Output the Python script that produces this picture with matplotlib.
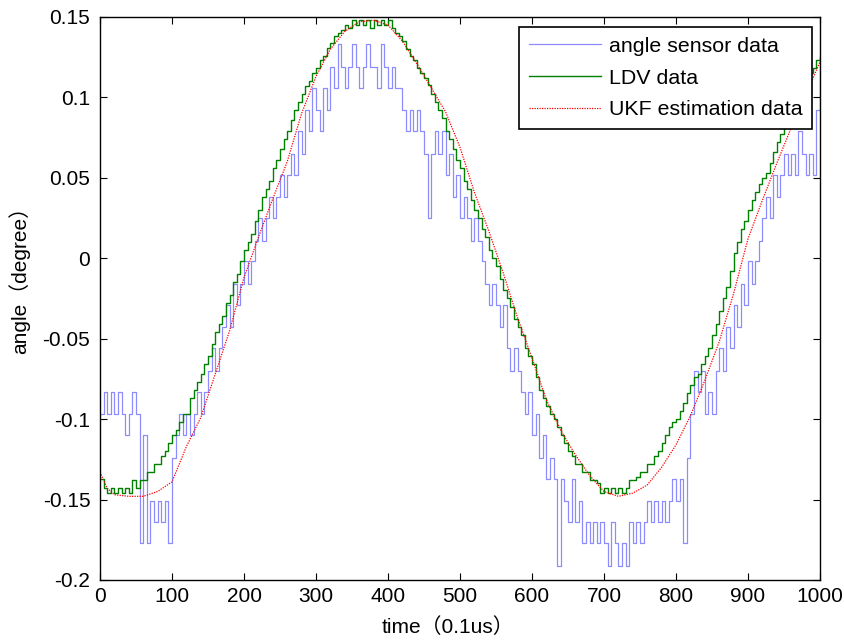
import numpy as np
import matplotlib
matplotlib.use('Agg')
import matplotlib.pyplot as plt

plt.rcParams['font.family'] = ['Liberation Sans', 'Noto Sans CJK SC', 'DejaVu Sans']
plt.rcParams['axes.unicode_minus'] = False

# time axis (0.1us) for the sampled values
t_step = list(range(0, 1001, 5))

# angle sensor data, read every 5 samples
sensor = [
    -0.097, -0.083, -0.097, -0.083, -0.097, -0.083, -0.097, -0.110, -0.097, -0.083,
    -0.097, -0.177, -0.110, -0.177, -0.151, -0.164, -0.151, -0.164, -0.151, -0.177,
    -0.124, -0.110, -0.097, -0.110, -0.097, -0.110, -0.097, -0.083, -0.097, -0.083,
    -0.070, -0.056, -0.070, -0.056, -0.043, -0.029, -0.043, -0.016, -0.029, -0.016,
    -0.002, -0.016, -0.002, 0.011, 0.025, 0.011, 0.025, 0.038, 0.025, 0.038,
    0.052, 0.038, 0.052, 0.065, 0.052, 0.079, 0.065, 0.092, 0.079, 0.106,
    0.092, 0.079, 0.106, 0.092, 0.119, 0.106, 0.133, 0.119, 0.106, 0.119,
    0.133, 0.119, 0.106, 0.119, 0.133, 0.119, 0.119, 0.106, 0.133, 0.119,
    0.106, 0.119, 0.106, 0.106, 0.092, 0.079, 0.092, 0.079, 0.092, 0.079,
    0.065, 0.025, 0.065, 0.079, 0.065, 0.079, 0.052, 0.065, 0.038, 0.052,
    0.025, 0.038, 0.025, 0.011, 0.025, 0.011, -0.002, -0.016, -0.029, -0.016,
    -0.029, -0.043, -0.029, -0.056, -0.070, -0.056, -0.070, -0.083, -0.097, -0.083,
    -0.110, -0.097, -0.124, -0.110, -0.137, -0.124, -0.137, -0.191, -0.137, -0.151,
    -0.164, -0.137, -0.164, -0.151, -0.177, -0.164, -0.177, -0.164, -0.177, -0.164,
    -0.177, -0.191, -0.164, -0.177, -0.191, -0.177, -0.191, -0.164, -0.177, -0.164,
    -0.177, -0.164, -0.151, -0.164, -0.151, -0.164, -0.151, -0.164, -0.151, -0.137,
    -0.151, -0.137, -0.177, -0.124, -0.097, -0.070, -0.083, -0.070, -0.097, -0.083,
    -0.097, -0.070, -0.056, -0.070, -0.043, -0.056, -0.029, -0.043, -0.016, -0.029,
    -0.002, -0.016, -0.002, 0.011, 0.025, 0.038, 0.025, 0.052, 0.038, 0.052,
    0.065, 0.052, 0.065, 0.052, 0.079, 0.065, 0.052, 0.065, 0.052, 0.092,
    0.119,
]

# LDV data, read every 5 samples
ldv = [
    -0.137, -0.143, -0.146, -0.143, -0.146, -0.143, -0.146, -0.143, -0.146, -0.138,
    -0.143, -0.138, -0.138, -0.133, -0.133, -0.128, -0.128, -0.123, -0.120, -0.115,
    -0.110, -0.107, -0.102, -0.097, -0.097, -0.087, -0.082, -0.077, -0.072, -0.066,
    -0.061, -0.053, -0.046, -0.041, -0.036, -0.028, -0.023, -0.015, -0.010, -0.002,
    0.005, 0.010, 0.015, 0.023, 0.030, 0.038, 0.043, 0.048, 0.056, 0.061,
    0.068, 0.074, 0.079, 0.086, 0.092, 0.097, 0.102, 0.107, 0.110, 0.115,
    0.118, 0.123, 0.126, 0.131, 0.134, 0.138, 0.140, 0.142, 0.145, 0.143,
    0.148, 0.145, 0.148, 0.145, 0.148, 0.143, 0.148, 0.145, 0.148, 0.145,
    0.148, 0.143, 0.140, 0.138, 0.135, 0.130, 0.126, 0.123, 0.118, 0.115,
    0.112, 0.108, 0.102, 0.097, 0.092, 0.087, 0.079, 0.074, 0.068, 0.061,
    0.056, 0.048, 0.043, 0.036, 0.030, 0.025, 0.018, 0.013, 0.005, 0.000,
    -0.005, -0.013, -0.020, -0.025, -0.030, -0.038, -0.043, -0.048, -0.056, -0.061,
    -0.066, -0.074, -0.082, -0.087, -0.092, -0.097, -0.100, -0.105, -0.110, -0.115,
    -0.120, -0.123, -0.128, -0.128, -0.133, -0.133, -0.138, -0.138, -0.140, -0.146,
    -0.143, -0.146, -0.143, -0.146, -0.143, -0.146, -0.143, -0.138, -0.138, -0.136,
    -0.133, -0.133, -0.128, -0.128, -0.123, -0.120, -0.115, -0.110, -0.105, -0.102,
    -0.100, -0.095, -0.090, -0.084, -0.079, -0.074, -0.072, -0.066, -0.061, -0.056,
    -0.048, -0.041, -0.033, -0.025, -0.018, -0.008, 0.003, 0.010, 0.018, 0.023,
    0.030, 0.036, 0.041, 0.046, 0.050, 0.053, 0.059, 0.066, 0.072, 0.077,
    0.082, 0.087, 0.092, 0.097, 0.102, 0.107, 0.112, 0.115, 0.118, 0.123,
    0.125,
]

# UKF estimation data
t_ukf = [0, 10, 20, 40, 60, 80, 100, 120, 140, 160, 180, 200, 220, 240, 260, 280,
         300, 320, 340, 360, 380, 400, 420, 440, 460, 480, 500, 520, 540, 560, 580,
         600, 620, 640, 660, 680, 700, 720, 740, 760, 780, 800, 820, 840, 860, 880,
         900, 920, 940, 960, 980, 1000]
ukf = [-0.133, -0.143, -0.147, -0.148, -0.148, -0.145, -0.139, -0.117, -0.099, -0.072,
       -0.045, -0.012, 0.013, 0.037, 0.060, 0.090, 0.113, 0.130, 0.141, 0.147,
       0.148, 0.145, 0.135, 0.121, 0.106, 0.091, 0.069, 0.041, 0.017, -0.009,
       -0.037, -0.062, -0.088, -0.107, -0.122, -0.135, -0.145, -0.148, -0.146, -0.141,
       -0.130, -0.116, -0.098, -0.076, -0.052, -0.022, 0.012, 0.036, 0.059, 0.081,
       0.101, 0.122]

fig = plt.figure(figsize=(8.44, 6.42), dpi=100)
ax = fig.add_axes([0.1185, 0.0966, 0.853, 0.877])

ax.plot(t_step, sensor, drawstyle='steps-post', color='#0000ff', alpha=0.45, lw=0.9,
        label='angle sensor data')
ax.plot(t_step, ldv, drawstyle='steps-post', color='#007f00', lw=1.0, label='LDV data')
ax.plot(t_ukf, ukf, color='red', ls=(0, (1, 1)), lw=0.9, label='UKF estimation data')

ax.set_xlim(0, 1000)
ax.set_ylim(-0.2, 0.15)
ax.set_xticks(np.arange(0, 1001, 100))
yt = [-0.2, -0.15, -0.1, -0.05, 0, 0.05, 0.1, 0.15]
ax.set_yticks(yt)
ax.set_yticklabels(['%g' % v for v in yt])
ax.tick_params(direction='in', top=True, right=True, length=5, labelsize=15, width=0.8)
ax.tick_params(axis='y', pad=7)
ax.tick_params(axis='x', pad=5)
for s in ax.spines.values():
    s.set_linewidth(1.0)

ax.set_xlabel('time（0.1us）', fontsize=15)
ax.set_ylabel('angle（degree）', fontsize=15)
ax.xaxis.set_label_coords(0.483, -0.066)
ax.yaxis.set_label_coords(-0.097, 0.542)

leg = ax.legend(loc='upper right', bbox_to_anchor=(0.989, 0.982), borderaxespad=0,
                fontsize=15.4, handlelength=3.4, handletextpad=0.35, labelspacing=0.6,
                fancybox=False, framealpha=1, edgecolor='black', borderpad=0.45)
leg.get_frame().set_linewidth(1.2)

plt.savefig('out.png', dpi=100)
